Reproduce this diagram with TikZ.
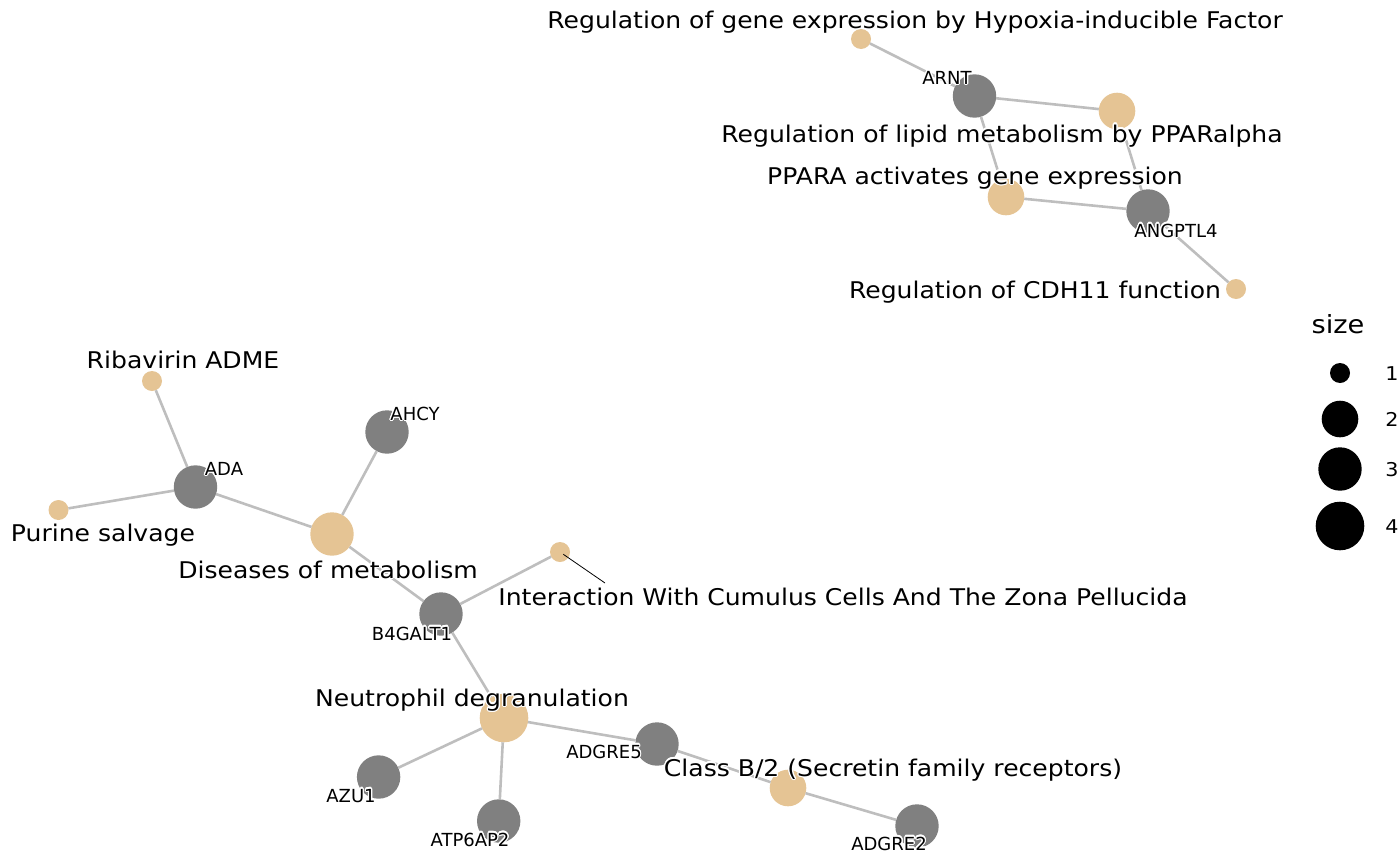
\documentclass[tikz,border=0pt]{standalone}
\usepackage{fontspec}
\setmainfont{DejaVu Sans}
\newfontfamily\catfont[FakeStretch=1.09]{DejaVu Sans}
\usepackage{contour}
\contourlength{1.2bp}
\definecolor{cattan}{HTML}{E5C494}
\definecolor{genegray}{HTML}{808080}
\definecolor{edgegray}{HTML}{BEBEBE}
\begin{document}
\begin{tikzpicture}[x=1bp,y=-1bp,
  dot/.style={circle,draw=none,inner sep=0pt,outer sep=0pt},
  catnode/.style={dot,fill=cattan},
  genenode/.style={dot,fill=genegray,minimum size=43.4bp},
  sz1/.style={minimum size=20bp},
  sz2/.style={minimum size=36.6bp},
  sz3/.style={minimum size=43.4bp},
  sz4/.style={minimum size=48.6bp},
  edge/.style={draw=edgegray,line width=2.6bp},
  clab/.style={font=\catfont\fontsize{23bp}{27bp}\selectfont,anchor=base,inner sep=0pt},
  glab/.style={font=\fontsize{18bp}{21bp}\selectfont,anchor=base,inner sep=0pt},
  legnode/.style={dot,fill=black}]
\useasboundingbox (0,0) rectangle (1400,865);

% category nodes
\node[catnode,sz1] (cHyp) at (861,39) {};
\node[catnode,sz2] (cLip) at (1117,111) {};
\node[catnode,sz2] (cPPA) at (1006,197) {};
\node[catnode,sz1] (cCDH) at (1236,289) {};
\node[catnode,sz1] (cRib) at (152,381) {};
\node[catnode,sz1] (cPur) at (58.5,510) {};
\node[catnode,sz3] (cDis) at (332,534) {};
\node[catnode,sz1] (cInt) at (560,552) {};
\node[catnode,sz4] (cNeu) at (504,718) {};
\node[catnode,sz2] (cCls) at (788,788) {};

% gene nodes
\node[genenode] (gARNT) at (974.5,96) {};
\node[genenode] (gANG) at (1148,211) {};
\node[genenode] (gADA) at (195.5,487) {};
\node[genenode] (gAHCY) at (387,432) {};
\node[genenode] (gB4) at (441,614) {};
\node[genenode] (gAD5) at (657,744) {};
\node[genenode] (gAZU) at (378.6,777) {};
\node[genenode] (gATP) at (498.7,821) {};
\node[genenode] (gAD2) at (917,826) {};

% edges
\draw[edge] (cHyp) -- (gARNT);
\draw[edge] (gARNT) -- (cLip);
\draw[edge] (gARNT) -- (cPPA);
\draw[edge] (cLip) -- (gANG);
\draw[edge] (cPPA) -- (gANG);
\draw[edge] (gANG) -- (cCDH);
\draw[edge] (cRib) -- (gADA);
\draw[edge] (cPur) -- (gADA);
\draw[edge] (gADA) -- (cDis);
\draw[edge] (gAHCY) -- (cDis);
\draw[edge] (cDis) -- (gB4);
\draw[edge] (gB4) -- (cInt);
\draw[edge] (gB4) -- (cNeu);
\draw[edge] (cNeu) -- (gAZU);
\draw[edge] (cNeu) -- (gATP);
\draw[edge] (cNeu) -- (gAD5);
\draw[edge] (gAD5) -- (cCls);
\draw[edge] (cCls) -- (gAD2);

% leader line
\coordinate (lead) at (605,583);
\draw[black,line width=0.8bp,shorten <=4bp] (cInt.center) -- (lead);

% category labels
\node[clab] (tHyp) at (915,28) {\contour{white}{Regulation of gene expression by Hypoxia-inducible Factor}};
\node[clab] (tLip) at (1002,142) {\contour{white}{Regulation of lipid metabolism by PPARalpha}};
\node[clab] (tPPA) at (975,184) {\contour{white}{PPARA activates gene expression}};
\node[clab] (tCDH) at (1035,298) {\contour{white}{Regulation of CDH11 function}};
\node[clab] (tRib) at (183,368) {\contour{white}{Ribavirin ADME}};
\node[clab] (tPur) at (103,541) {\contour{white}{Purine salvage}};
\node[clab] (tDis) at (328,578) {\contour{white}{Diseases of metabolism}};
\node[clab] (tInt) at (843,605) {\contour{white}{Interaction With Cumulus Cells And The Zona Pellucida}};
\node[clab] (tNeu) at (472,706) {\contour{white}{Neutrophil degranulation}};
\node[clab] (tCls) at (893,776) {\contour{white}{Class B/2 (Secretin family receptors)}};

% gene labels
\node[glab] (tARNT) at (947,84) {\contour{white}{ARNT}};
\node[glab] (tANG) at (1176,237) {\contour{white}{ANGPTL4}};
\node[glab] (tADA) at (224,475) {\contour{white}{ADA}};
\node[glab] (tAHCY) at (415,420) {\contour{white}{AHCY}};
\node[glab] (tB4) at (412,640) {\contour{white}{B4GALT1}};
\node[glab] (tAD5) at (604,758) {\contour{white}{ADGRE5}};
\node[glab] (tAZU) at (351,802) {\contour{white}{AZU1}};
\node[glab] (tATP) at (470,846) {\contour{white}{ATP6AP2}};
\node[glab] (tAD2) at (889,850) {\contour{white}{ADGRE2}};

% legend
\node[clab,font=\catfont\fontsize{25bp}{29bp}\selectfont] (legT) at (1338,333) {size};
\node[legnode,sz1] (leg1) at (1340,373) {};
\node[legnode,sz2] (leg2) at (1340,419) {};
\node[legnode,sz3] (leg3) at (1340,469) {};
\node[legnode,sz4] (leg4) at (1340,526) {};
\node[clab,font=\catfont\fontsize{19bp}{22bp}\selectfont] (legN1) at (1392,380) {1};
\node[clab,font=\catfont\fontsize{19bp}{22bp}\selectfont] (legN2) at (1392,426) {2};
\node[clab,font=\catfont\fontsize{19bp}{22bp}\selectfont] (legN3) at (1392,476) {3};
\node[clab,font=\catfont\fontsize{19bp}{22bp}\selectfont] (legN4) at (1392,533) {4};
\end{tikzpicture}
\end{document}
